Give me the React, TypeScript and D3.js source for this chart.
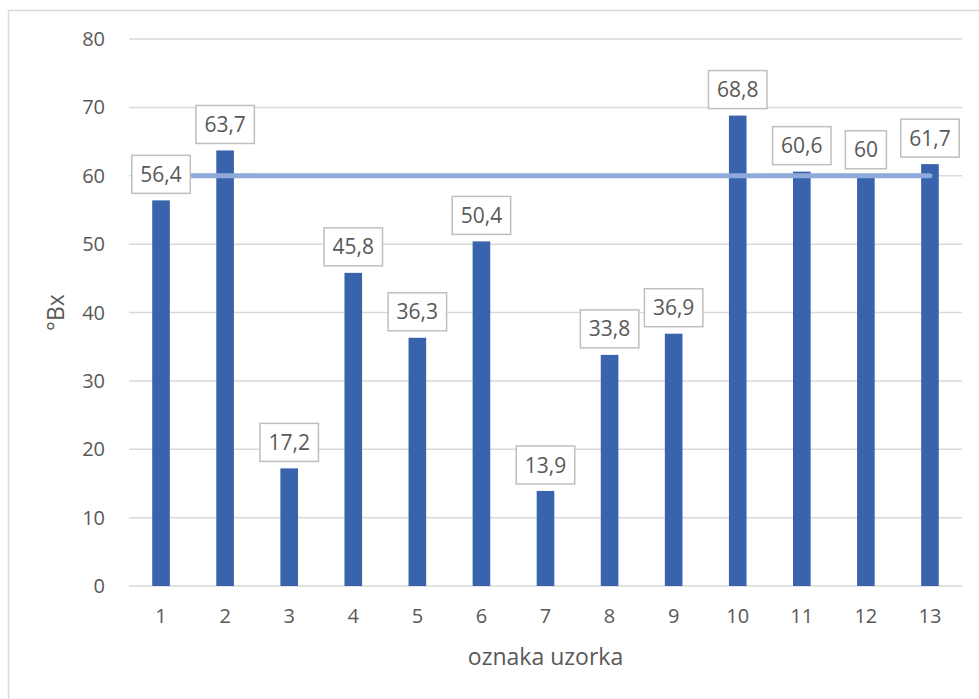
import React from "react";
import { scaleBand, scaleLinear } from "d3";

const width = 979;
const height = 699;

const margin = { top: 39, right: 17, bottom: 113, left: 129 };
const innerW = width - margin.left - margin.right;
const innerH = height - margin.top - margin.bottom;

// data
const samples = ["1", "2", "3", "4", "5", "6", "7", "8", "9", "10", "11", "12", "13"];
const brix = [56.4, 63.7, 17.2, 45.8, 36.3, 50.4, 13.9, 33.8, 36.9, 68.8, 60.6, 60, 61.7];
const yTicks = [0, 10, 20, 30, 40, 50, 60, 70, 80];
const refValue = 60;

const barColor = "#3A63AD";
const lineColor = "#8FA9DA";
const gridColor = "#D9D9D9";
const textColor = "#595959";
const font = "'Open Sans', 'Noto Sans', sans-serif";
const fs = 20;
const labelFs = 21;
const titleFs = 23;

const x = scaleBand().domain(samples).range([0, innerW]).paddingInner(0.725).paddingOuter(0.3625);
const y = scaleLinear().domain([0, 80]).range([innerH, 0]);

const fmt = (v: number) => String(v).replace(".", ",");
// rough text width for digits and comma in Open Sans
const textW = (s: string) => s.split("").reduce((a, c) => a + (c === "," ? 0.26 : 0.572) * labelFs, 0);

export default function App() {
  const cx = (s: string) => (x(s) || 0) + x.bandwidth() / 2;
  return (
    <div style={{ position: "absolute", left: 0, top: 0 }}>
      <svg width={width} height={height} style={{ display: "block", background: "white" }}>
        <rect x={8.5} y={10.5} width={width} height={height} fill="white" stroke={gridColor} strokeWidth={1.5} />
        <g transform={`translate(${margin.left},${margin.top})`}>
          {/* grid + y ticks */}
          {yTicks.map((t) => (
            <g key={t}>
              <line x1={0} x2={innerW} y1={y(t)} y2={y(t)} stroke={gridColor} strokeWidth={1.5} />
              <text x={-24} y={y(t)} dy="0.35em" textAnchor="end" fontSize={fs} fill={textColor} fontFamily={font}>
                {t}
              </text>
            </g>
          ))}
          {/* bars */}
          {brix.map((v, i) => (
            <rect key={i} x={x(samples[i])} y={y(v)} width={x.bandwidth()} height={innerH - y(v)} fill={barColor} />
          ))}
          {/* reference line */}
          <line
            x1={cx(samples[0])}
            x2={cx(samples[samples.length - 1])}
            y1={y(refValue)}
            y2={y(refValue)}
            stroke={lineColor}
            strokeWidth={5}
            strokeLinecap="round"
          />
          {/* data labels */}
          {brix.map((v, i) => {
            const label = fmt(v);
            const w = textW(label) + 17;
            const h = 38;
            const bottom = y(v) - 7;
            return (
              <g key={i}>
                <rect
                  x={cx(samples[i]) - w / 2}
                  y={bottom - h}
                  width={w}
                  height={h}
                  fill="white"
                  stroke="#BFBFBF"
                  strokeWidth={1.5}
                />
                <text
                  x={cx(samples[i])}
                  y={bottom - h / 2}
                  dy="0.36em"
                  textAnchor="middle"
                  fontSize={labelFs}
                  fill={textColor}
                  fontFamily={font}
                >
                  {label}
                </text>
              </g>
            );
          })}
          {/* x ticks */}
          {samples.map((s) => (
            <text key={s} x={cx(s)} y={innerH + 30} dy="0.35em" textAnchor="middle" fontSize={fs} fill={textColor} fontFamily={font}>
              {s}
            </text>
          ))}
          <text x={innerW / 2} y={innerH + 71} dy="0.35em" textAnchor="middle" fontSize={titleFs} fill={textColor} fontFamily={font}>
            oznaka uzorka
          </text>
          <text
            transform={`translate(${-73},${innerH / 2}) rotate(-90)`}
            dy="0.35em"
            textAnchor="middle"
            fontSize={titleFs}
            fill={textColor}
            fontFamily={font}
          >
            °Bx
          </text>
        </g>
      </svg>
    </div>
  );
}
